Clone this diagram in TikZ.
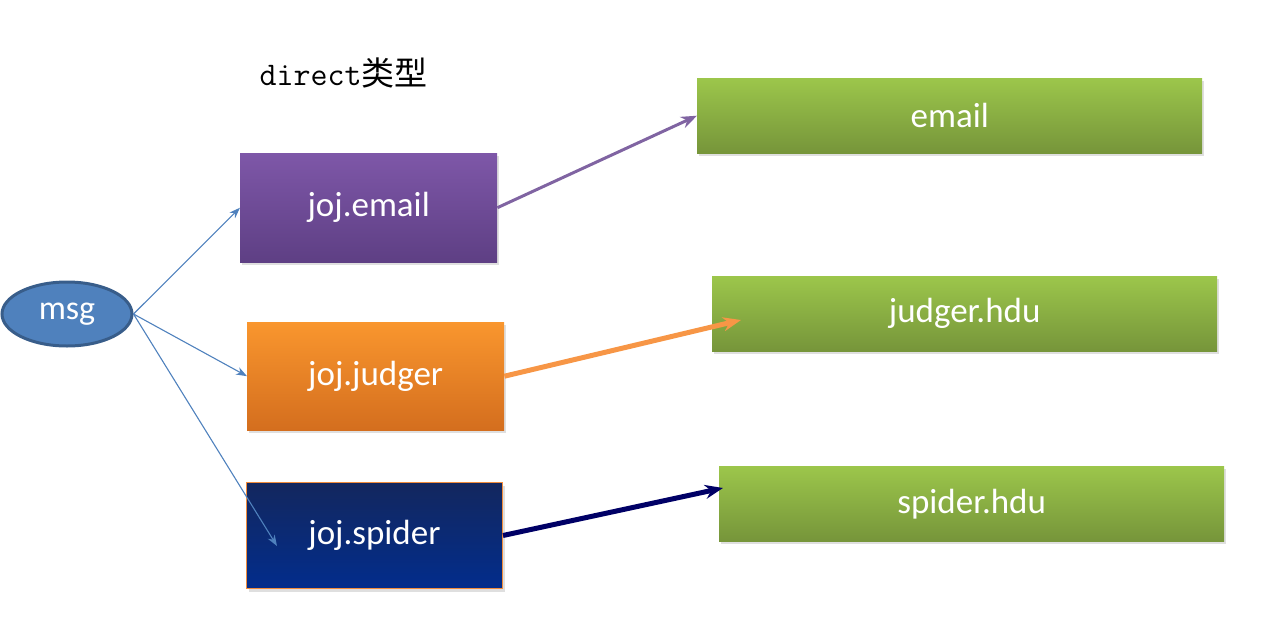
\documentclass[tikz,border=0pt]{standalone}
\usepackage{fontspec}
\setmainfont{Carlito}
\newfontfamily\cjk{Noto Sans CJK SC}
\usetikzlibrary{shapes.geometric,arrows.meta,shadows}
\definecolor{msgblue}{HTML}{4F81BD}
\definecolor{msgedge}{HTML}{385D8A}
\definecolor{purpleT}{HTML}{7E57A8}
\definecolor{purpleB}{HTML}{5E3F84}
\definecolor{orangeT}{HTML}{F9962E}
\definecolor{orangeB}{HTML}{D46E1E}
\definecolor{navyT}{HTML}{13275E}
\definecolor{navyB}{HTML}{022D8C}
\definecolor{greenT}{HTML}{9CC64B}
\definecolor{greenB}{HTML}{76953A}
\definecolor{purpleLine}{HTML}{8064A2}
\definecolor{orangeLine}{HTML}{F79646}
\definecolor{navyLine}{HTML}{000066}
\definecolor{bordOr}{HTML}{F08C3C}
\newcommand{\lbl}[1]{\raisebox{-3pt}{#1}}
\tikzset{
  boxbase/.style={rectangle, anchor=north west, inner sep=0pt, text=white,
    font=\fontsize{35}{42}\selectfont,
    drop shadow={shadow xshift=2pt, shadow yshift=-3pt, opacity=0.25}},
  purplebox/.style={boxbase, top color=purpleT, bottom color=purpleB},
  orangebox/.style={boxbase, top color=orangeT, bottom color=orangeB},
  navybox/.style={boxbase, top color=navyT, bottom color=navyB, draw=bordOr, line width=1pt},
  greenbox/.style={boxbase, top color=greenT, bottom color=greenB},
  thinarrow/.style={draw=msgblue, line width=1.1pt, -{Stealth[length=11pt,width=8pt]}},
  fatarrow/.style={line width=#1, -{Stealth[length=18pt,width=14pt]}},
}
\begin{document}
\begin{tikzpicture}[x=1pt,y=-1pt]
\useasboundingbox (0,0) rectangle (1280,635);
\node[ellipse, draw=msgedge, line width=3pt, fill=msgblue, minimum width=130pt, minimum height=64pt, text=white, font=\fontsize{34}{40}\selectfont] (msg) at (67,314) {\lbl{msg}};
\node[anchor=west, font=\fontsize{33}{38}\selectfont] (title) at (256,73) {\ttfamily direct\cjk 类型};
\node[purplebox, minimum width=257pt, minimum height=109pt] (jemail) at (240,153) {\lbl{joj.email}};
\node[orangebox, minimum width=257pt, minimum height=108pt] (jjudger) at (247,322) {\lbl{joj.judger}};
\node[navybox, minimum width=256pt, minimum height=106pt] (jspider) at (246,482) {\lbl{joj.spider}};
\node[greenbox, minimum width=505pt, minimum height=75pt] (email) at (697,78) {\lbl{email}};
\node[greenbox, minimum width=505pt, minimum height=75pt] (judger) at (712,276) {\lbl{judger.hdu}};
\node[greenbox, minimum width=505pt, minimum height=75pt] (spider) at (719,466) {\lbl{spider.hdu}};
\coordinate (spiderend) at (277,546);
\coordinate (judgerend) at (741,320);
\coordinate (spiderhdu) at (723,488);
\draw[thinarrow] (msg.east) -- (jemail.west);
\draw[thinarrow] (msg.east) -- (jjudger.west);
\draw[thinarrow] (msg.east) -- (spiderend);
\draw[draw=purpleLine, line width=3pt, -{Stealth[length=16pt,width=12pt]}] (jemail.east) -- (email.west);
\draw[draw=orangeLine, fatarrow=5pt] (jjudger.east) -- (judgerend);
\draw[draw=navyLine, fatarrow=5pt] (jspider.east) -- (spiderhdu);
\end{tikzpicture}
\end{document}
